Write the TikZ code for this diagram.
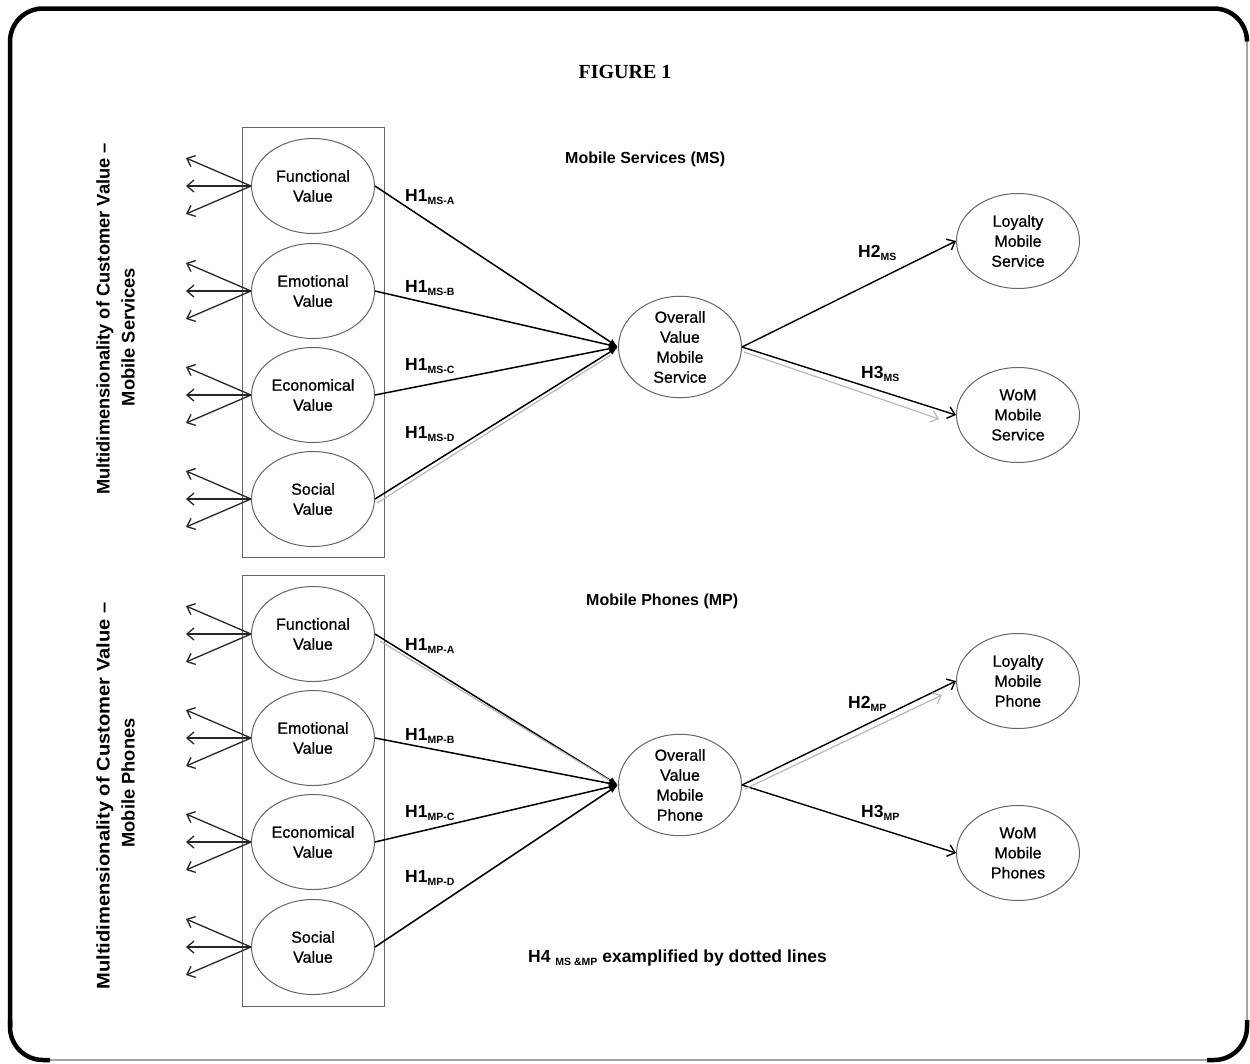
\documentclass[tikz,border=0pt]{standalone}
\usepackage{fontspec}
\setmainfont{Liberation Sans}
\newfontfamily\titleserif{Liberation Serif}
\newfontfamily\ovaltext[FakeBold=0.7]{Liberation Sans}
\usetikzlibrary{arrows.meta,shapes.geometric,calc}

% hypothesis label: bold "H<n>" with a small bold subscript
\newcommand\hyplabel[2]{#1\raisebox{-3.5pt}{\fontsize{10.5}{10.5}\selectfont #2}}

\tikzset{
  construct/.style={ellipse, draw=black!60, line width=1pt,
    minimum width=123pt, minimum height=95pt, inner sep=0pt,
    align=center, font=\ovaltext\fontsize{16}{20}\selectfont},
  valuebox/.style={draw=black!60, line width=1pt, minimum width=142pt, inner sep=0pt},
  hyparrow/.style={draw=black, line width=1.5pt, -{Latex[length=9pt,width=7pt]}},
  effectarrow/.style={draw=black, line width=1.4pt,
    -{Straight Barb[length=7pt,width=12pt,line width=1.4pt]}},
  itemarrow/.style={draw=black!85, line width=1.3pt,
    -{Straight Barb[length=7pt,width=12pt,line width=1.3pt]}},
  linkline/.style={draw=black!28, line width=1.2pt},
  linkarrow/.style={draw=black!28, line width=1.2pt,
    -{Straight Barb[length=7pt,width=12pt,line width=1.2pt]}},
  hlabel/.style={anchor=base west, inner sep=0pt, font=\fontsize{17.5}{17.5}\selectfont\bfseries},
  heading/.style={anchor=base west, inner sep=0pt, font=\fontsize{16}{16}\selectfont\bfseries},
  sidetitle/.style={rotate=90, inner sep=0pt, font=\fontsize{18.3}{18.3}\selectfont\bfseries},
}

\begin{document}
\begin{tikzpicture}[x=1pt,y=-1pt]
\useasboundingbox (0,0) rectangle (1250,1063);
\fill[white] (0,0) rectangle (1250,1063);

% outer frame: thin all round, heavy along the top and left edges and at the corners
\draw[draw=black!55, line width=1.2pt, rounded corners=33pt] (10,8.5) rectangle (1247,1060);
\draw[line width=4.5pt, rounded corners=33pt] (10,1027) -- (10,8.5) -- (1247,8.5) -- (1247,41.5);
\draw[line width=4.5pt, rounded corners=33pt] (10,1020) -- (10,1060) -- (50,1060);
\draw[line width=4.5pt, rounded corners=33pt] (1207,1060) -- (1247,1060) -- (1247,1020);

\node[font=\titleserif\bfseries\fontsize{20}{20}\selectfont] (title) at (625,72) {FIGURE 1};

% ---------------- Mobile services ----------------
\node[valuebox, minimum height=430pt] (boxMS) at (313,342) {};
\node[construct] (fa) at (313,186) {Functional\\Value};
\node[construct] (ea) at (313,291) {Emotional\\Value};
\node[construct] (ca) at (313,395) {Economical\\Value};
\node[construct] (sa) at (313,499) {Social\\Value};
\node[construct] (ov1) at (680,347) {Overall\\Value\\Mobile\\Service};
\node[construct] (loy1) at (1018,241) {Loyalty\\Mobile\\Service};
\node[construct] (wom1) at (1018,415) {WoM\\Mobile\\Service};

\node[heading] (hdMS) at (565,163) {Mobile Services (MS)};
\node[sidetitle] (sideMS1) at (105,319) {Multidimensionality of Customer Value –};
\node[sidetitle] (sideMS2) at (128,337) {Mobile Services};

% ---------------- Mobile phones ----------------
\node[valuebox, minimum height=431pt] (boxMP) at (313,790.5) {};
\node[construct] (fb) at (313,634) {Functional\\Value};
\node[construct] (eb) at (313,738) {Emotional\\Value};
\node[construct] (cb) at (313,842) {Economical\\Value};
\node[construct] (sb) at (313,947) {Social\\Value};
\node[construct] (ov2) at (680,785) {Overall\\Value\\Mobile\\Phone};
\node[construct] (loy2) at (1018,681) {Loyalty\\Mobile\\Phone};
\node[construct] (wom2) at (1018,853) {WoM\\Mobile\\Phones};

\node[heading] (hdMP) at (586,605) {Mobile Phones (MP)};
\node[sidetitle] (sideMP1) at (105,796) {\scalebox{1.1}[1]{Multidimensionality of Customer Value –}};
\node[sidetitle] (sideMP2) at (128,783) {Mobile Phones};

% three indicator arrows leaving each dimension
\foreach \d in {fa,ea,ca,sa,fb,eb,cb,sb}{
  \coordinate (\d-up) at ($(\d.west)+(-65,-28)$);
  \coordinate (\d-mid) at ($(\d.west)+(-65,0)$);
  \coordinate (\d-down) at ($(\d.west)+(-65,28)$);
  \draw[itemarrow] (\d.west) -- (\d-up);
  \draw[itemarrow] (\d.west) -- (\d-mid);
  \draw[itemarrow] (\d.west) -- (\d-down);
}

% H1 paths into overall value
\foreach \d in {fa,ea,ca,sa}{\draw[hyparrow] (\d.east) -- (ov1.west);}
\foreach \d in {fb,eb,cb,sb}{\draw[hyparrow] (\d.east) -- (ov2.west);}

% H2 / H3 paths
\draw[effectarrow] (ov1.east) -- (loy1.west);
\draw[effectarrow] (ov1.east) -- (wom1.west);
\draw[effectarrow] (ov2.east) -- (loy2.west);
\draw[effectarrow] (ov2.east) -- (wom2.west);

% H4 cross-links shown as light parallel lines
\draw[linkline] ($(sa.east)+(2,4)$) -- ($(ov1.west)+(-7,8)$);
\draw[linkarrow] ($(ov1.east)+(2,5)$) -- ($(wom1.west)+(-17,4)$);
\draw[linkline] ($(fb.east)+(5,7)$) -- ($(ov2.west)+(-9,-5)$);
\draw[linkarrow] ($(ov2.east)+(3,4)$) -- ($(loy2.west)+(-14,14)$);

% hypothesis labels
\node[hlabel] (h1msa) at (405,201) {\hyplabel{H1}{MS-A}};
\node[hlabel] (h1msb) at (405,292) {\hyplabel{H1}{MS-B}};
\node[hlabel] (h1msc) at (405,370) {\hyplabel{H1}{MS-C}};
\node[hlabel] (h1msd) at (405,438) {\hyplabel{H1}{MS-D}};
\node[hlabel] (h2ms) at (858,257) {\hyplabel{H2}{MS}};
\node[hlabel] (h3ms) at (861,378) {\hyplabel{H3}{MS}};

\node[hlabel] (h1mpa) at (405,650) {\hyplabel{H1}{MP-A}};
\node[hlabel] (h1mpb) at (405,740) {\hyplabel{H1}{MP-B}};
\node[hlabel] (h1mpc) at (405,817) {\hyplabel{H1}{MP-C}};
\node[hlabel] (h1mpd) at (405,882) {\hyplabel{H1}{MP-D}};
\node[hlabel] (h2mp) at (848,708) {\hyplabel{H2}{MP}};
\node[hlabel] (h3mp) at (861,817) {\hyplabel{H3}{MP}};

\node[hlabel] (h4note) at (528,962) {H4 \raisebox{-3.5pt}{\fontsize{10.5}{10.5}\selectfont MS \&MP} examplified by dotted lines};
\end{tikzpicture}
\end{document}
